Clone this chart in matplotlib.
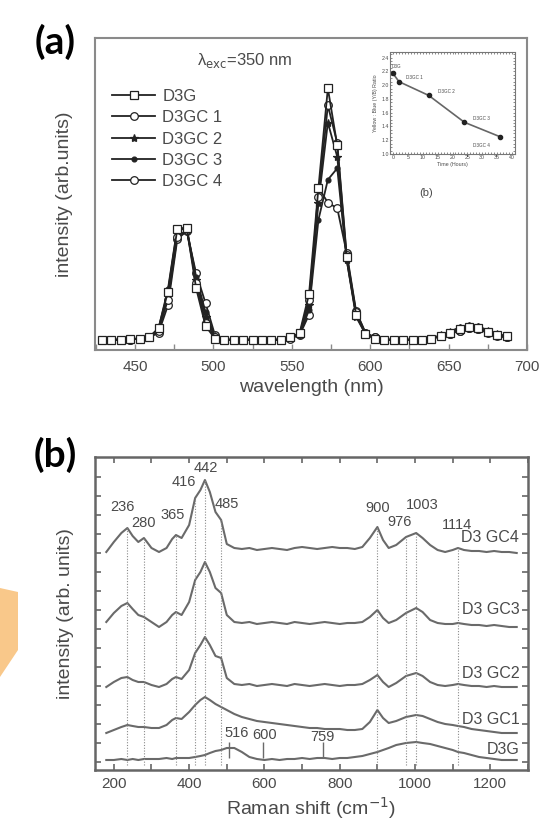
import numpy as np
import matplotlib
matplotlib.use('Agg')
import matplotlib.pyplot as plt
from matplotlib.patches import Polygon
from matplotlib.ticker import MultipleLocator, NullFormatter

plt.rcParams['font.family'] = ['Liberation Sans', 'DejaVu Sans']

# ---- panel (a): emission spectra, lambda_exc = 350 nm ----
wavelength = [429, 435, 441, 447, 453, 459, 465, 471, 477, 483, 489, 495, 501,
              507, 513, 519, 525, 531, 537, 543, 549, 555, 561, 567, 573, 579,
              585, 591, 597, 603, 609, 615, 621, 627, 633, 639, 645, 651, 657,
              663, 669, 675, 681, 687]

d3g = [0.00, 0.00, 0.00, 0.01, 0.01, 0.02, 0.10, 0.42, 0.97, 0.98, 0.45, 0.12, 0.01,
       0.00, 0.00, 0.00, 0.00, 0.00, 0.00, 0.00, 0.02, 0.06, 0.40, 1.33, 2.20, 1.70,
       0.72, 0.22, 0.05, 0.01, 0.00, 0.00, 0.00, 0.00, 0.00, 0.01, 0.03, 0.06, 0.09,
       0.11, 0.10, 0.07, 0.04, 0.03]
d3gc1 = [0.00, 0.00, 0.00, 0.00, 0.01, 0.02, 0.08, 0.35, 0.90, 0.96, 0.50, 0.15, 0.02,
         0.00, 0.00, 0.00, 0.00, 0.00, 0.00, 0.00, 0.02, 0.05, 0.35, 1.25, 2.05, 1.72,
         0.74, 0.24, 0.06, 0.02, 0.00, 0.00, 0.00, 0.00, 0.00, 0.01, 0.03, 0.05, 0.08,
         0.10, 0.09, 0.07, 0.04, 0.02]
d3gc2 = [0.00, 0.00, 0.00, 0.00, 0.01, 0.02, 0.09, 0.40, 0.95, 0.98, 0.52, 0.20, 0.03,
         0.00, 0.00, 0.00, 0.00, 0.00, 0.00, 0.00, 0.02, 0.05, 0.30, 1.20, 1.90, 1.60,
         0.70, 0.20, 0.05, 0.01, 0.00, 0.00, 0.00, 0.00, 0.00, 0.01, 0.04, 0.07, 0.10,
         0.12, 0.11, 0.08, 0.05, 0.03]
d3gc3 = [0.00, 0.00, 0.00, 0.00, 0.01, 0.02, 0.10, 0.44, 0.98, 0.97, 0.55, 0.24, 0.03,
         0.00, 0.00, 0.00, 0.00, 0.00, 0.00, 0.00, 0.02, 0.05, 0.26, 1.05, 1.40, 1.50,
         0.70, 0.22, 0.05, 0.01, 0.00, 0.00, 0.00, 0.00, 0.00, 0.01, 0.04, 0.07, 0.11,
         0.13, 0.12, 0.08, 0.05, 0.03]
d3gc4 = [0.00, 0.00, 0.00, 0.00, 0.01, 0.02, 0.06, 0.30, 0.88, 0.95, 0.58, 0.32, 0.04,
         0.00, 0.00, 0.00, 0.00, 0.00, 0.00, 0.00, 0.01, 0.04, 0.22, 1.33, 1.20, 1.15,
         0.76, 0.25, 0.06, 0.02, 0.00, 0.00, 0.00, 0.00, 0.00, 0.01, 0.03, 0.05, 0.08,
         0.10, 0.09, 0.06, 0.03, 0.02]

pl_names = ['D3G', 'D3GC 1', 'D3GC 2', 'D3GC 3', 'D3GC 4']

# ---- inset: yellow/blue ratio vs time ----
inset_time = [0, 2, 12, 24, 36]
inset_ratio = [2.17, 2.05, 1.85, 1.46, 1.25]
inset_names = ['D3G', 'D3GC 1', 'D3GC 2', 'D3GC 3', 'D3GC 4']

# ---- panel (b): Raman spectra (stacked, arb. units) ----
raman_x = [180, 200, 220, 236, 250, 265, 280, 300, 320, 340, 355, 365, 380, 400, 416,
           430, 442, 455, 470, 485, 500, 520, 540, 560, 580, 600, 620, 640, 660, 680,
           700, 720, 740, 760, 780, 800, 820, 840, 860, 880, 900, 915, 930, 950, 976,
           1003, 1020, 1040, 1060, 1080, 1100, 1114, 1130, 1150, 1170, 1190, 1210,
           1230, 1250, 1270]
gc4 = [218, 228, 237, 242, 234, 228, 232, 222, 218, 222, 231, 235, 232, 245, 272,
       280, 290, 278, 258, 250, 226, 222, 221, 222, 220, 221, 222, 221, 220, 222,
       223, 222, 221, 222, 223, 222, 222, 221, 223, 232, 243, 230, 222, 225, 233,
       237, 232, 225, 220, 218, 220, 222, 220, 219, 219, 218, 219, 218, 218, 217]
gc3 = [148, 157, 164, 167, 161, 155, 153, 148, 143, 148, 155, 158, 155, 168, 190,
       198, 208, 198, 182, 177, 155, 148, 147, 148, 146, 147, 148, 147, 146, 148,
       147, 146, 147, 148, 147, 146, 147, 147, 148, 153, 160, 152, 147, 150, 157,
       162, 158, 150, 147, 146, 146, 147, 146, 145, 145, 144, 145, 144, 143, 143]
gc2 = [83, 88, 92, 93, 90, 88, 88, 85, 83, 86, 91, 93, 91, 100, 117,
       125, 133, 125, 114, 112, 92, 86, 85, 86, 84, 85, 86, 85, 84, 86,
       85, 84, 85, 86, 85, 84, 85, 85, 86, 90, 95, 88, 83, 87, 94,
       97, 94, 88, 85, 84, 85, 86, 85, 84, 84, 83, 84, 83, 83, 83]
gc1 = [37, 40, 43, 45, 44, 43, 43, 42, 42, 45, 50, 52, 51, 58, 65,
       70, 73, 70, 66, 63, 60, 56, 53, 51, 49, 48, 47, 46, 45, 44,
       43, 42, 42, 41, 41, 41, 40, 40, 41, 48, 60, 52, 47, 49, 53,
       55, 54, 51, 48, 46, 45, 44, 43, 41, 40, 39, 38, 37, 37, 37]
d3g_raman = [10, 10, 11, 10, 11, 10, 11, 11, 11, 12, 11, 12, 12, 12, 13,
             14, 15, 17, 19, 20, 22, 22, 18, 13, 11, 10, 11, 10, 11, 11,
             12, 11, 12, 12, 11, 12, 12, 13, 14, 16, 18, 20, 22, 25, 27,
             28, 27, 26, 24, 22, 20, 18, 17, 15, 13, 12, 11, 10, 10, 10]
raman_names = ['D3 GC4', 'D3 GC3', 'D3 GC2', 'D3 GC1', 'D3G']

peak_marks = [236, 280, 365, 416, 442, 485, 900, 976, 1003, 1114]
peak_text_pos = [(224, 263), (280, 247), (357, 255), (385, 288), (443, 302),
                 (501, 266), (901, 262), (958, 248), (1019, 265), (1112, 245)]
d3g_marks = ['516', '600', '759']
d3g_tick_x = [505, 595, 755]
d3g_text_pos = [(527, 37), (600, 35), (754, 33)]
raman_label_y = [232, 160, 97, 50, 20]

txt = '#4a4a4a'
frame = '#8a8a8a'

fig = plt.figure(figsize=(5.48, 8.26), dpi=100)

# decoration at the left edge of the slide
fig.patches.append(Polygon([[0, 1 - 588/826], [18/548, 1 - 592/826],
                            [18/548, 1 - 650/826], [0, 1 - 677/826]],
                           closed=True, transform=fig.transFigure,
                           facecolor='#f9c88a', edgecolor='none'))

# ---------------- panel (a) ----------------
ax = fig.add_axes([95/548, 1 - 350/826, 432/548, 312/826])
styles = [dict(marker='s', mfc='white', ms=5.5),
          dict(marker='o', mfc='white', ms=5.5),
          dict(marker='*', mfc='#222222', ms=6),
          dict(marker='o', mfc='#222222', ms=3.5),
          dict(marker='o', mfc='white', ms=5.5)]
series = [d3g, d3gc1, d3gc2, d3gc3, d3gc4]
order = [4, 3, 2, 1, 0]
handles = [None] * 5
for i in order:
    h, = ax.plot(wavelength, series[i], color='#222222', lw=1.3, mec='#222222',
                 mew=0.9, label=pl_names[i], **styles[i])
    handles[i] = h
ax.set_xlim(424.5, 700)
ax.set_ylim(-0.09, 2.64)
ax.xaxis.set_major_locator(MultipleLocator(50))
ax.xaxis.set_minor_locator(MultipleLocator(25))
ax.tick_params(axis='x', which='both', direction='in', length=4, width=1,
               color=frame, labelsize=11, labelcolor=txt, pad=7)
ax.set_yticks([])
for s in ax.spines.values():
    s.set_color(frame)
    s.set_linewidth(1.5)
ax.set_xlabel('wavelength (nm)', fontsize=14, color=txt, labelpad=4)
ax.set_ylabel('intensity (arb.units)', fontsize=14, color=txt, labelpad=16)
ax.text(245/548, 1 - 60/826, 'λ$_{\\rm exc}$=350 nm', transform=fig.transFigure,
        fontsize=12, color=txt, ha='center', va='center')
leg = ax.legend(handles=handles, loc='upper left', bbox_to_anchor=(0.005, 0.885),
                frameon=False, fontsize=12, handlelength=2.6, labelspacing=0.38,
                handletextpad=0.4, labelcolor=txt)
fig.text(55/548, 1 - 42/826, '(a)', fontsize=28, fontweight='bold',
         family=['Lato', 'DejaVu Sans'], ha='center', va='center', color='black')

# ---------------- inset ----------------
ins = fig.add_axes([390/548, 1 - 154/826, 125/548, 102/826])
ins.plot(inset_time, inset_ratio, color='#666666', lw=1.2, marker='o', ms=3,
         mfc='#222222', mec='#222222')
ins.set_xlim(-1, 41)
ins.set_ylim(1.0, 2.48)
ins.set_xticks(range(0, 41, 5))
ins.set_yticks(np.arange(1.0, 2.41, 0.2))
ins.xaxis.set_minor_locator(MultipleLocator(1))
ins.yaxis.set_minor_locator(MultipleLocator(0.05))
ins.tick_params(which='both', direction='in', top=True, right=True, length=1.5,
                width=0.6, color='#777777', labelsize=3.8, labelcolor=txt, pad=1)
ins.set_yticklabels(['%.1f' % v for v in np.arange(1.0, 2.41, 0.2)])
for s in ins.spines.values():
    s.set_color('#777777')
    s.set_linewidth(0.8)
    s.set_linestyle((0, (3, 1)))
ins.set_xlabel('Time (Hours)', fontsize=3.8, color=txt, labelpad=1)
ins.set_ylabel('Yellow : Blue (Y/B) Ratio', fontsize=3.8, color=txt, labelpad=2)
inset_offsets = [(-0.3, 0.1), (2.5, 0.06), (3, 0.06), (3, 0.06), (-9, -0.12)]
for t, r, n, (dx, dy) in zip(inset_time, inset_ratio, inset_names, inset_offsets):
    ins.text(t + dx, r + dy, n, fontsize=3.3, color=txt, va='center')
fig.text(426/548, 1 - 193/826, '(b)', fontsize=8, color=txt, ha='center', va='center')

# ---------------- panel (b) ----------------
bx = fig.add_axes([95/548, 1 - 770/826, 433/548, 313/826])
for y in [gc4, gc3, gc2, gc1, d3g_raman]:
    bx.plot(raman_x, y, color='#6a6a6a', lw=1.5)
bx.vlines(peak_marks, 5, np.interp(peak_marks, raman_x, gc4), colors='#8a8a8a',
          linestyles=(0, (1, 1.5)), lw=0.8)
for lab, (px, py) in zip(peak_marks, peak_text_pos):
    bx.text(px, py, str(lab), fontsize=10.5, color=txt, ha='center', va='center')
bx.vlines(d3g_tick_x, 12, 28, colors='#6a6a6a', lw=1.0)
for lab, (px, py) in zip(d3g_marks, d3g_text_pos):
    bx.text(px, py, lab, fontsize=10.5, color=txt, ha='center', va='center')
for lab, ly in zip(raman_names, raman_label_y):
    bx.text(1277, ly, lab, fontsize=11.5, color=txt, ha='right', va='center')
bx.set_xlim(150, 1300)
bx.set_ylim(0, 313)
bx.xaxis.set_major_locator(MultipleLocator(200))
bx.xaxis.set_minor_locator(MultipleLocator(100))
bx.set_yticks(np.arange(8, 300, 19))
bx.yaxis.set_major_formatter(NullFormatter())
bx.tick_params(which='both', direction='in', top=True, right=True, length=4,
               width=1.2, color='#666666', labelsize=11, labelcolor=txt, pad=5)
for s in bx.spines.values():
    s.set_color('#666666')
    s.set_linewidth(1.8)
bx.set_xlabel(r'Raman shift (cm$^{-1}$)', fontsize=14, color=txt, labelpad=3)
bx.set_ylabel('intensity (arb. units)', fontsize=14, color=txt, labelpad=10)
fig.text(55/548, 1 - 455/826, '(b)', fontsize=28, fontweight='bold',
         family=['Lato', 'DejaVu Sans'], ha='center', va='center', color='black')

plt.savefig('out.png', dpi=100)
